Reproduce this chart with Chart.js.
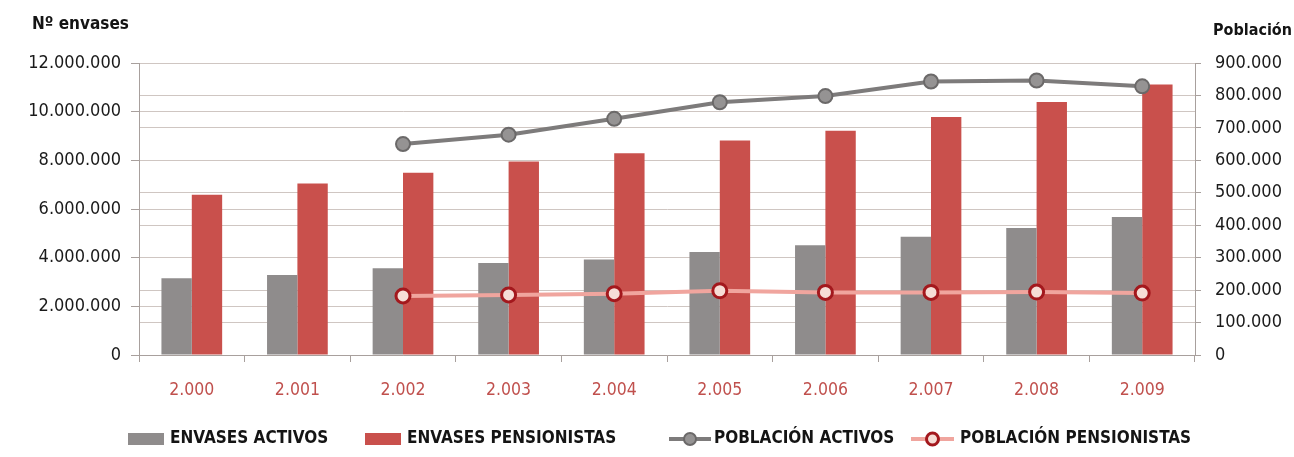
<!DOCTYPE html>
<html><head><meta charset="utf-8">
<script src="https://cdn.jsdelivr.net/npm/chart.js@4/dist/chart.umd.min.js"></script>
<style>html,body{margin:0;padding:0;background:#fff}#wrap{width:1294px;height:457px;position:relative}</style>
</head><body><div id="wrap"><canvas id="c" width="1294" height="457"></canvas></div>
<script>
const categories = ['2.000','2.001','2.002','2.003','2.004','2.005','2.006','2.007','2.008','2.009'];
const envasesActivos = [3150000,3290000,3560000,3780000,3920000,4230000,4510000,4860000,5220000,5670000];
const envasesPensionistas = [6590000,7050000,7490000,7950000,8290000,8820000,9220000,9780000,10400000,11120000];
const poblacionActivos = [null,null,650000,679000,728000,779000,798000,843000,846000,828000];
const poblacionPensionistas = [null,null,182000,185000,189000,198000,193000,193000,194000,191000];
const seriesLabels = ['ENVASES ACTIVOS','ENVASES PENSIONISTAS','POBLACIÓN ACTIVOS','POBLACIÓN PENSIONISTAS'];
const leftTitle = 'Nº envases';
const rightTitle = 'Población';

const FONT = "'Liberation Sans Narrow','DejaVu Sans Condensed','Arial Narrow',sans-serif";
const fmt = v => String(Math.round(v)).replace(/\B(?=(\d{3})+(?!\d))/g, '.');
const GRID = '#cfc6c2';
const AXIS = '#a8a09d';

const overlay = {
  id: 'overlay',
  afterDraw(chart) {
    const ctx = chart.ctx;
    ctx.save();
    ctx.fillStyle = '#141414';
    ctx.textBaseline = 'middle';
    ctx.textAlign = 'left';
    ctx.font = 'bold 17px ' + FONT;
    ctx.fillText(leftTitle, 32, 25);
    ctx.font = 'bold 16px ' + FONT;
    ctx.fillText(rightTitle, 1213, 31);
    // legend
    ctx.font = 'bold 17px ' + FONT;
    const y = 439;
    const starts = [128, 365, 669, 911];
    const symW = [36, 36, 42, 43];
    const gaps = [6, 6, 3, 6];
    chart.data.datasets.forEach((ds, i) => {
      const x = starts[i];
      if (ds.type === 'line') {
        ctx.strokeStyle = ds.borderColor; ctx.lineWidth = ds.borderWidth;
        ctx.beginPath(); ctx.moveTo(x, y); ctx.lineTo(x + symW[i], y); ctx.stroke();
        ctx.beginPath(); ctx.arc(x + symW[i] / 2, y, ds.pointRadius - 1, 0, Math.PI * 2);
        ctx.fillStyle = ds.pointBackgroundColor; ctx.fill();
        ctx.lineWidth = ds.pointBorderWidth; ctx.strokeStyle = ds.pointBorderColor; ctx.stroke();
      } else {
        ctx.fillStyle = ds.backgroundColor;
        ctx.fillRect(x, y - 6, symW[i], 12);
      }
      ctx.fillStyle = '#141414';
      ctx.fillText(ds.label, x + symW[i] + gaps[i], y);
    });
    ctx.restore();
  }
};

new Chart(document.getElementById('c'), {
  data: {
    labels: categories,
    datasets: [
      { type: 'bar', label: seriesLabels[0], data: envasesActivos, yAxisID: 'y', backgroundColor: '#8f8c8c', order: 2,
        barPercentage: 1, categoryPercentage: 0.575 },
      { type: 'bar', label: seriesLabels[1], data: envasesPensionistas, yAxisID: 'y', backgroundColor: '#c9504c', order: 2,
        barPercentage: 1, categoryPercentage: 0.575 },
      { type: 'line', label: seriesLabels[2], data: poblacionActivos, yAxisID: 'y1', order: 1,
        borderColor: '#7d7b7b', borderWidth: 4, pointRadius: 7, pointBackgroundColor: '#959393',
        pointBorderColor: '#6b6969', pointBorderWidth: 2, tension: 0 },
      { type: 'line', label: seriesLabels[3], data: poblacionPensionistas, yAxisID: 'y1', order: 1,
        borderColor: '#f0a59e', borderWidth: 4, pointRadius: 7, pointBackgroundColor: '#f6ddd6',
        pointBorderColor: '#a3181d', pointBorderWidth: 3, tension: 0 }
    ]
  },
  options: {
    responsive: false,
    animation: false,
    devicePixelRatio: 1,
    layout: { padding: { top: 63, left: 0, right: 0, bottom: 52 } },
    plugins: { legend: { display: false }, tooltip: { enabled: false }, title: { display: false } },
    scales: {
      x: {
        offset: true,
        grid: { display: true, drawOnChartArea: false, offset: true, color: AXIS, tickLength: 7, tickColor: AXIS },
        border: { display: true, color: AXIS, width: 1 },
        ticks: { color: '#c0504d', font: { family: FONT, size: 17.5 }, padding: 18 },
        afterFit(s) { s.height = 50; }
      },
      y: {
        position: 'left', min: 0, max: 12000000,
        ticks: { stepSize: 2000000, callback: v => fmt(v), color: '#1a1a1a', font: { family: FONT, size: 18 }, padding: 10 },
        grid: { color: GRID, tickLength: 8, tickColor: AXIS },
        border: { display: true, color: AXIS },
        afterFit(s) { s.width = 139; }
      },
      y1: {
        position: 'right', min: 0, max: 900000,
        ticks: { stepSize: 100000, callback: v => fmt(v), color: '#1a1a1a', font: { family: FONT, size: 18 }, padding: 14 },
        grid: { color: GRID, tickLength: 6, tickColor: AXIS },
        border: { display: true, color: AXIS },
        afterFit(s) { s.width = 99; }
      }
    }
  },
  plugins: [overlay]
});
</script></body></html>
